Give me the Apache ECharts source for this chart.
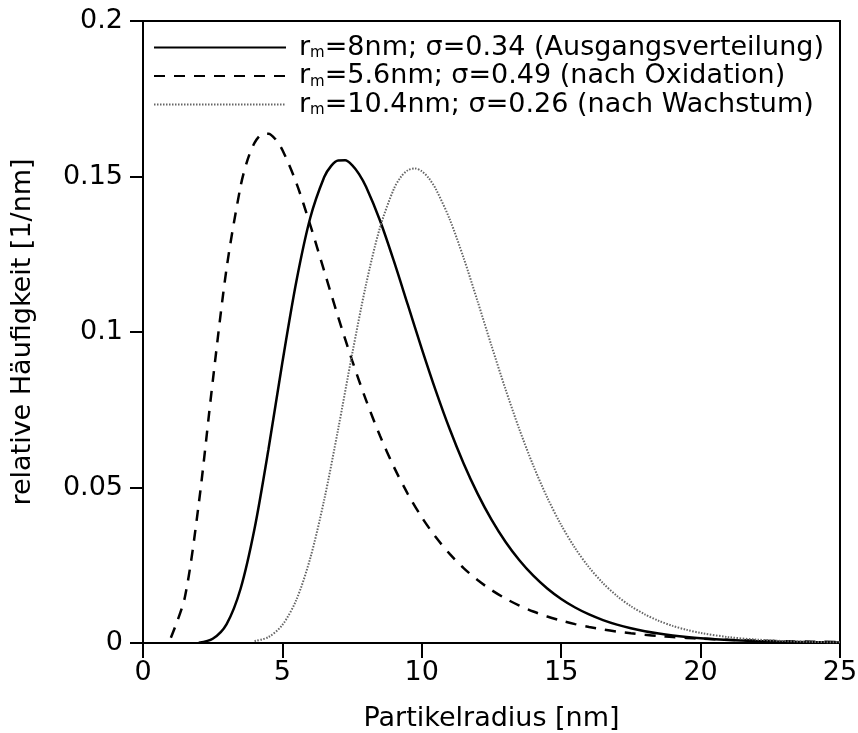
<!DOCTYPE html>
<html>
<head>
<meta charset="utf-8">
<script src="https://cdn.jsdelivr.net/npm/echarts@6/dist/echarts.min.js"></script>
<style>html,body{margin:0;padding:0;background:#fff}#chart{width:858px;height:733px}</style>
</head>
<body>
<div id="chart"></div>
<script>
var seriesNames = [
  'rm=8nm; σ=0.34 (Ausgangsverteilung)',
  'rm=5.6nm; σ=0.49 (nach Oxidation)',
  'rm=10.4nm; σ=0.26 (nach Wachstum)'
];
var xAxisTitle = 'Partikelradius [nm]';
var yAxisTitle = 'relative Häufigkeit [1/nm]';

var radiusSolid = [2,2.5,3,3.5,4,4.5,5,5.5,6,6.5,6.75,7,7.25,7.5,7.75,8,8.5,9,9.5,10,10.5,11,11.5,12,12.5,13,13.5,14,14.5,15,15.5,16,16.5,17,17.5,18,18.5,19,19.5,20,21,22,23,24,25];
var valuesSolid = [0.0001,0.00135,0.0061,0.01744,0.03672,0.06228,0.09026,0.11624,0.13672,0.14981,0.15343,0.15518,0.1552,0.15366,0.15074,0.14667,0.13587,0.12278,0.1087,0.0946,0.08116,0.06879,0.05772,0.04802,0.03966,0.03256,0.0266,0.02163,0.01753,0.01416,0.01141,0.00918,0.00737,0.00591,0.00474,0.00379,0.00304,0.00243,0.00194,0.00155,0.001,0.00064,0.00041,0.00026,0.00017];

var radiusDashed = [1,1.5,2,2.5,3,3.5,3.75,4,4.25,4.5,4.75,5,5.5,6,6.5,7,7.5,8,8.5,9,9.5,10,10.5,11,11.5,12,12.5,13,13.5,14,14.5,15,15.5,16,16.5,17,17.5,18,18.5,19,19.5,20,21,22,23,24,25];
var valuesDashed = [0.00169,0.01463,0.04476,0.08405,0.12058,0.14685,0.15533,0.16079,0.1635,0.16378,0.162,0.15854,0.14793,0.13436,0.11959,0.10485,0.09088,0.07809,0.06665,0.05661,0.0479,0.04043,0.03405,0.02865,0.02408,0.02024,0.01701,0.0143,0.01203,0.01012,0.00853,0.00719,0.00607,0.00513,0.00434,0.00367,0.00312,0.00265,0.00225,0.00192,0.00163,0.00139,0.00102,0.00075,0.00056,0.00041,0.00031];

var radiusDotted = [4,4.5,5,5.5,6,6.5,7,7.5,8,8.5,9,9.25,9.5,9.75,10,10.25,10.5,11,11.5,12,12.5,13,13.5,14,14.5,15,15.5,16,16.5,17,17.5,18,18.5,19,19.5,20,21,22,23,24,25];
var valuesDotted = [0.00061,0.0019,0.00581,0.01387,0.02729,0.04607,0.06877,0.09281,0.11527,0.13359,0.14607,0.14986,0.15202,0.1526,0.1517,0.14946,0.14603,0.13628,0.12381,0.1099,0.09558,0.08167,0.0687,0.05701,0.04675,0.03793,0.03049,0.02431,0.01924,0.01513,0.01183,0.00921,0.00713,0.0055,0.00423,0.00325,0.00189,0.0011,0.00063,0.00036,0.00021];

function pairs(xs, ys) { return xs.map(function (x, i) { return [x, ys[i]]; }); }

var FONT = 'DejaVu Sans';
var FS = 27;
var chart = echarts.init(document.getElementById('chart'));
chart.setOption({
  animation: false,
  grid: { left: 143, right: 18, top: 21, bottom: 90, containLabel: false, outerBoundsMode: 'none',
          show: true, borderColor: '#000', borderWidth: 2, backgroundColor: 'transparent' },
  legend: {
    left: 148, top: 29, orient: 'vertical', itemWidth: 132, itemHeight: 14, itemGap: 1.5,
    data: seriesNames,
    itemStyle: { opacity: 0 },
    textStyle: {
      fontFamily: FONT, fontSize: FS, color: '#000', lineHeight: 27, padding: [0, 0, 0, 8],
      rich: {
        sub: { fontFamily: FONT, fontSize: 15, color: '#000', lineHeight: 12, verticalAlign: 'bottom' }
      }
    },
    formatter: function (name) { return 'r{sub|m}' + name.slice(2); }
  },
  xAxis: {
    type: 'value', min: 0, max: 25, interval: 5,
    name: xAxisTitle, nameLocation: 'middle', nameGap: 62,
    nameTextStyle: { fontFamily: FONT, fontSize: FS, color: '#000' },
    axisLine: { lineStyle: { color: '#000', width: 2 } },
    axisTick: { inside: false, length: 15, lineStyle: { color: '#000', width: 2 } },
    axisLabel: { fontFamily: FONT, fontSize: FS, color: '#000', margin: 16 },
    splitLine: { show: false }
  },
  yAxis: {
    type: 'value', min: 0, max: 0.2, interval: 0.05,
    name: yAxisTitle, nameLocation: 'middle', nameGap: 107,
    nameTextStyle: { fontFamily: FONT, fontSize: FS, color: '#000' },
    axisLine: { lineStyle: { color: '#000', width: 2 } },
    axisTick: { inside: false, length: 13, lineStyle: { color: '#000', width: 2 } },
    axisLabel: { fontFamily: FONT, fontSize: FS, color: '#000', margin: 20 },
    splitLine: { show: false }
  },
  series: [
    { name: seriesNames[0], type: 'line', data: pairs(radiusSolid, valuesSolid), smooth: 0.3, symbol: 'none',
      lineStyle: { color: '#000', width: 2.5, type: 'solid' }, itemStyle: { color: '#000' } },
    { name: seriesNames[1], type: 'line', data: pairs(radiusDashed, valuesDashed), smooth: 0.3, symbol: 'none',
      lineStyle: { color: '#000', width: 2.5, type: [11, 9] }, itemStyle: { color: '#000' } },
    { name: seriesNames[2], type: 'line', data: pairs(radiusDotted, valuesDotted), smooth: 0.3, symbol: 'none',
      lineStyle: { color: '#666', width: 2, type: [1.5, 1.5] }, itemStyle: { color: '#666' } }
  ]
});
</script>
</body>
</html>
